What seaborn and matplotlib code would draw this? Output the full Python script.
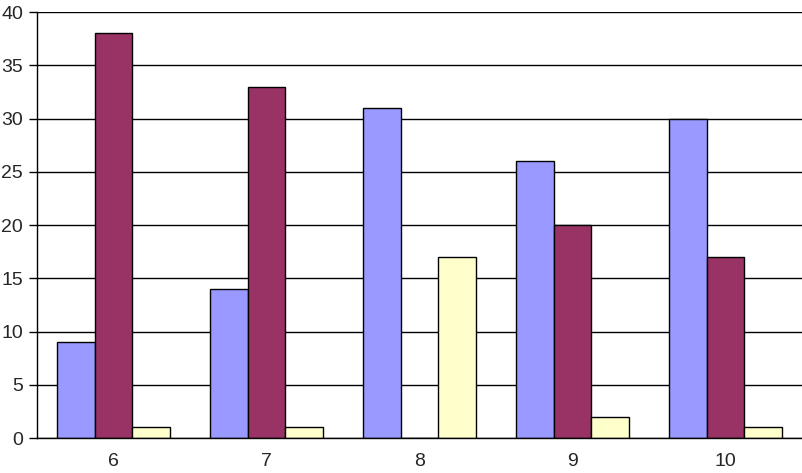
import matplotlib
matplotlib.use("Agg")
import matplotlib.pyplot as plt
import seaborn as sns
import pandas as pd
import numpy as np

categories = ["6", "7", "8", "9", "10"]
series_a = [9, 14, 31, 26, 30]
series_b = [38, 33, 0, 20, 17]
series_c = [1, 1, 17, 2, 1]
series_names = ["A", "B", "C"]
colors = ["#9999FF", "#993366", "#FFFFCC"]

rows = []
for name, vals in zip(series_names, [series_a, series_b, series_c]):
    for c, v in zip(categories, vals):
        rows.append({"cat": c, "series": name, "value": v})
df = pd.DataFrame(rows)

sns.set_style("white")
plt.rcParams['font.family'] = ['Liberation Sans', 'DejaVu Sans']

fig = plt.figure(figsize=(8.02, 4.73), dpi=100)
ax = fig.add_axes([37/802, 1-438/473, 1-37/802, (438-12)/473])

sns.barplot(data=df, x="cat", y="value", hue="series", order=categories,
            hue_order=series_names, palette=colors, width=0.745, gap=0,
            edgecolor="black", linewidth=1, saturation=1, legend=False, ax=ax)

ax.set_xlim(-0.5, 4.5)
ax.set_ylim(0, 40)
ax.set_yticks(range(0, 41, 5))
ax.yaxis.grid(True, color="black", linewidth=1)
ax.set_axisbelow(True)
for s in ["top", "right"]:
    ax.spines[s].set_visible(False)
for s in ["left", "bottom"]:
    ax.spines[s].set_color("black")
    ax.spines[s].set_linewidth(1)

ax.set_xticks(np.arange(-0.5, 4.6, 1), minor=True)
ax.tick_params(axis="x", which="major", length=0, labelsize=14, pad=11)
ax.tick_params(axis="x", which="minor", length=6, width=1, color="black", direction="out")
ax.tick_params(axis="y", length=6, width=1, color="black", direction="out", labelsize=14, pad=4, left=True)
ax.set_xlabel("")
ax.set_ylabel("")

fig.savefig("out.png", dpi=100)
